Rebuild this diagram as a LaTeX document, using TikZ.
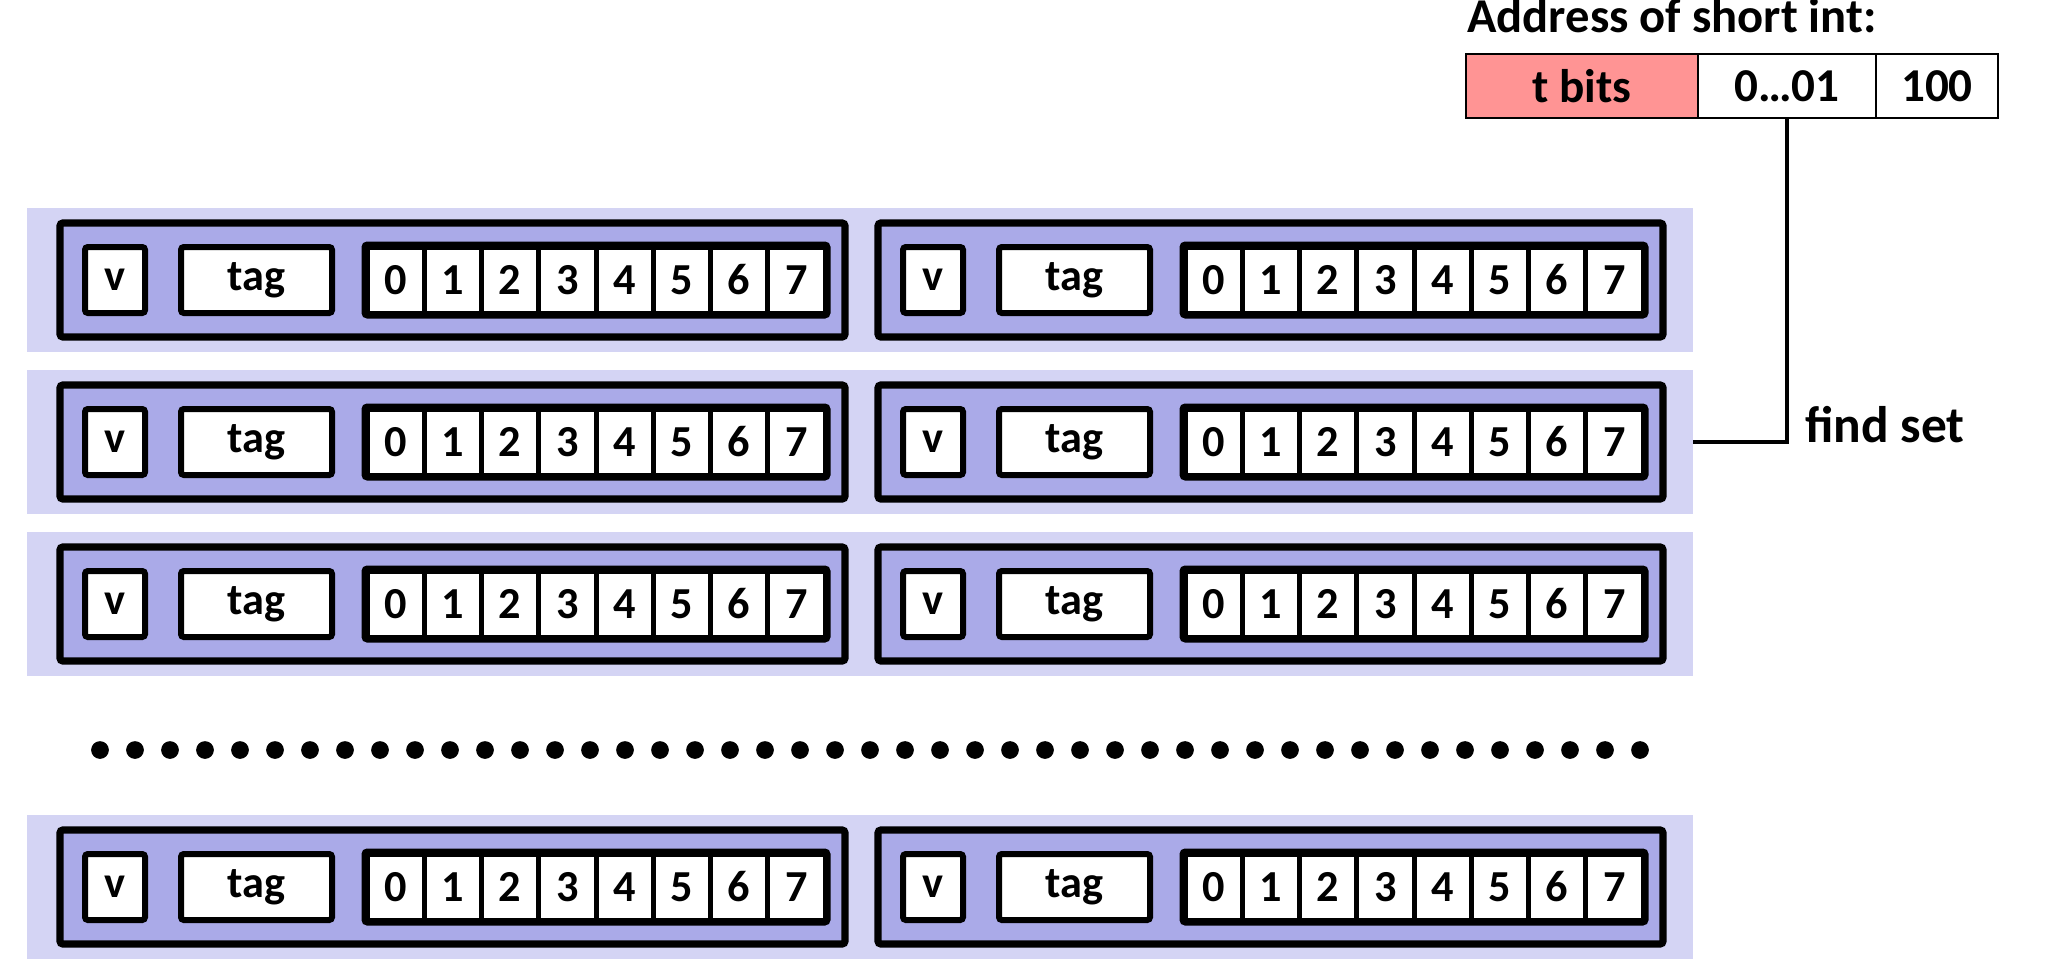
\documentclass[tikz,border=0pt]{standalone}
\usepackage{fontspec}
\setmainfont{Carlito}
\definecolor{bandcol}{RGB}{212,212,244}
\definecolor{linecol}{RGB}{170,170,232}
\definecolor{tagcol}{RGB}{255,148,148}
\newlength\pxunit
\setlength\pxunit{0.7pt}

\tikzset{
  setband/.style={fill=bandcol, inner sep=0pt,
    minimum width=1666*\pxunit, minimum height=144*\pxunit},
  linebox/.style={draw, fill=linecol, line width=5pt, rounded corners=2pt, inner sep=0pt,
    minimum width=785*\pxunit, minimum height=114*\pxunit},
  field/.style={draw, fill=white, line width=4.2pt, rounded corners=2pt, inner sep=0pt,
    minimum height=66*\pxunit, font=\fontsize{31}{33}\selectfont\bfseries},
  cell/.style={field, line width=3.5pt, rounded corners=0pt, minimum width=57.25*\pxunit},
  addrbox/.style={draw, line width=1.8pt, inner sep=0pt, minimum height=64*\pxunit,
    font=\fontsize{33}{35}\selectfont\bfseries},
  label/.style={font=\fontsize{34}{36}\selectfont\bfseries, inner sep=0pt}
}

\begin{document}
\begin{tikzpicture}[x=0.7pt, y=-0.7pt]
  \useasboundingbox (0,0) rectangle (2062,962);

  % address of the short int
  \node[label, anchor=base west] (addrlbl) at (1467,33) {Address of short int:};
  \node[addrbox, fill=tagcol, minimum width=232*\pxunit] (tbits) at (1582,86) {t bits};
  \node[addrbox, fill=white, minimum width=178*\pxunit] (f01) at (1787,86) {0…01};
  \node[addrbox, fill=white, minimum width=122*\pxunit] (f100) at (1937,86) {100};

  % sets, two lines each
  \foreach \r/\y in {1/280, 2/442, 3/604, 4/887} {
    \node[setband] (set\r) at (860,\y) {};
    \foreach \s/\L in {a/60, b/878} {
      \node[linebox] (line\r\s) at (\L+392.5,\y) {};
      \node[field, minimum width=60*\pxunit] (v\r\s) at (\L+55,\y) {v};
      \node[field, minimum width=151*\pxunit] (tag\r\s) at (\L+196.5,\y) {tag};
      \foreach \i in {0,...,7}
        \node[cell] (b\r\s\i) at (\L+307+57.25*\i+28.625,\y) {\i};
      \draw[line width=4.2pt, rounded corners=2pt] (b\r\s0.north west) rectangle (b\r\s7.south east);
    }
  }

  % more sets
  \foreach \i in {0,...,44}
    \fill (100+35*\i,750) circle[radius=6.2pt];

  % set index selects the set
  \draw[line width=2.8pt] (f01.south) |- (set2.east);
  \node[label, font=\fontsize{36}{38}\selectfont\bfseries, anchor=base west] (findlbl) at (1805,442) {find set};
\end{tikzpicture}
\end{document}
